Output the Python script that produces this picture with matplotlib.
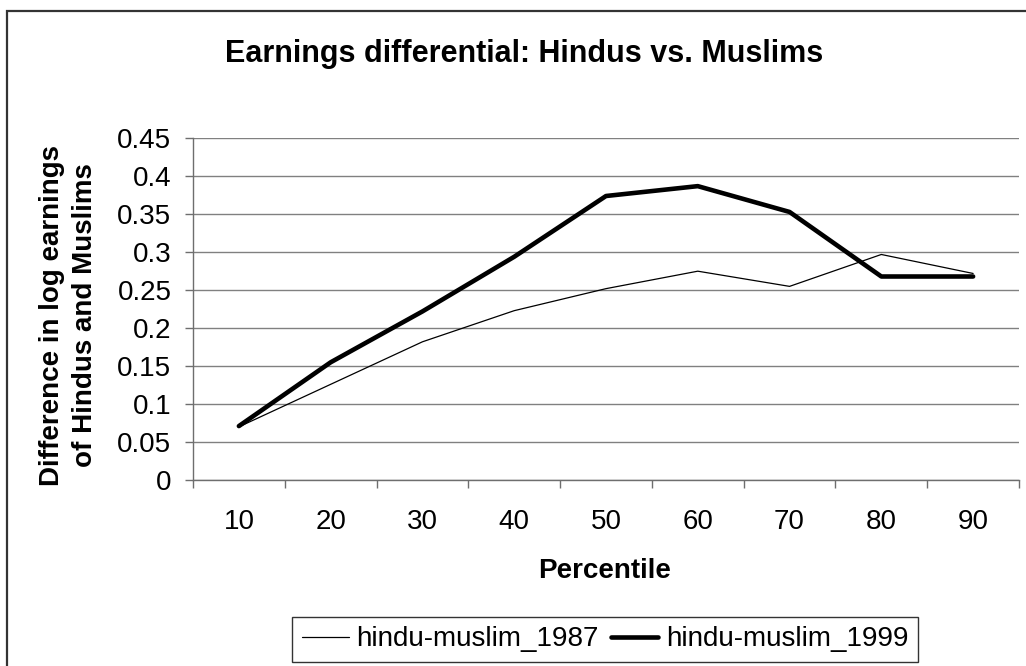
import numpy as np
import matplotlib
matplotlib.use('Agg')
import matplotlib.pyplot as plt
from matplotlib.patches import Rectangle

percentiles = ['10', '20', '30', '40', '50', '60', '70', '80', '90']
hm_1987 = [0.070, 0.126, 0.182, 0.223, 0.252, 0.275, 0.255, 0.297, 0.272]
hm_1999 = [0.071, 0.155, 0.222, 0.294, 0.374, 0.387, 0.353, 0.268, 0.268]
y_ticks = [0, 0.05, 0.1, 0.15, 0.2, 0.25, 0.3, 0.35, 0.4, 0.45]
y_labels = ['0', '0.05', '0.1', '0.15', '0.2', '0.25', '0.3', '0.35', '0.4', '0.45']

plt.rcParams['font.family'] = ['Liberation Sans', 'DejaVu Sans']

W, H = 1026, 666
fig = plt.figure(figsize=(W / 100, H / 100), dpi=100)
fig.patch.set_facecolor('white')

# chart border (cut off on right and bottom like the screenshot)
fig.patches.append(Rectangle((7 / W, -0.05), 1.1, 1 - 11 / H + 0.05, transform=fig.transFigure,
                             fill=False, edgecolor='#333333', linewidth=1.6, clip_on=False))

ax = fig.add_axes([193 / W, 1 - 480 / H, (1019 - 193) / W, (480 - 138.3) / H])
x = np.arange(len(percentiles))

ax.plot(x, hm_1987, color='black', linewidth=0.9, label='hindu-muslim_1987',
        solid_joinstyle='round', solid_capstyle='round')
ax.plot(x, hm_1999, color='black', linewidth=3.3, label='hindu-muslim_1999',
        solid_joinstyle='round', solid_capstyle='round')

ax.set_xlim(-0.5, len(percentiles) - 0.5)
ax.set_ylim(0, 0.45)
ax.set_yticks(y_ticks)
ax.set_yticklabels(y_labels)
ax.set_xticks(x)
ax.set_xticklabels(percentiles)
ax.set_xticks(np.arange(len(percentiles) + 1) - 0.5, minor=True)

ax.grid(axis='y', color='#808080', linewidth=1.0)
ax.set_axisbelow(True)
for side in ['top', 'right']:
    ax.spines[side].set_visible(False)
for side in ['left', 'bottom']:
    ax.spines[side].set_color('#6e6e6e')
    ax.spines[side].set_linewidth(1.0)

ax.tick_params(axis='y', which='major', direction='out', length=5.5, width=1.0, color='#6e6e6e',
               labelsize=20, pad=10)
ax.tick_params(axis='x', which='major', length=0, labelsize=20, pad=21)
ax.tick_params(axis='x', which='minor', direction='out', length=6, width=1.0, color='#6e6e6e')

fig.text(524 / W, 1 - 54 / H, 'Earnings differential: Hindus vs. Muslims', ha='center', va='center',
         fontsize=22, fontweight='bold')
fig.text(69 / W, 1 - 315 / H, 'Difference in log earnings\nof Hindus and Muslims', ha='center', va='center',
         rotation=90, fontsize=20, fontweight='bold', linespacing=1.35, multialignment='center')
fig.text(605 / W, 1 - 571 / H, 'Percentile', ha='center', va='center', fontsize=20, fontweight='bold')

leg = fig.legend(loc='center', bbox_to_anchor=(605 / W, 1 - 639.5 / H), ncol=2, fontsize=20,
                 frameon=True, fancybox=False, handlelength=1.7, handletextpad=0.27,
                 columnspacing=0.45, borderpad=0.35, borderaxespad=0)
leg.get_frame().set_edgecolor('black')
leg.get_frame().set_linewidth(1.0)

plt.savefig('out.png', dpi=100)
